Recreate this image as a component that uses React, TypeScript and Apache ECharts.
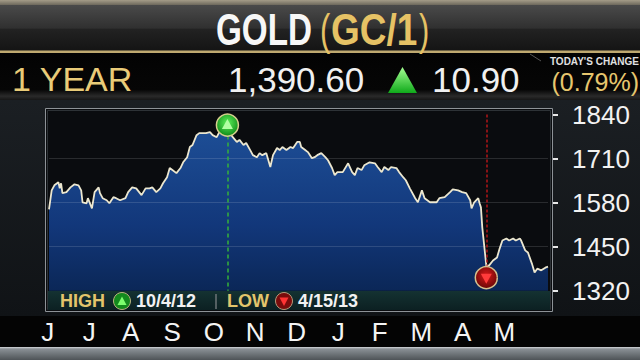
import React, { useEffect, useRef } from 'react';
import * as echarts from 'echarts';

// ---- data ----
const startDate = '2012-05-24';
const dayOffsets = [0,2,4,7,8,9,10,13,16,19,22,24,25,28,29,32,34,37,38,40,43,45,48,50,53,57,59,62,65,69,72,75,77,80,83,85,88,90,92,95,98,100,103,105,107,110,112,117,120,122,125,127,131,133,137,140,142,145,147,150,152,155,157,159,162,165,167,170,172,174,177,180,182,185,187,188,191,193,196,198,200,203,206,208,211,213,215,219,223,226,228,230,233,235,239,243,245,248,250,253,255,259,261,264,266,269,273,275,278,280,284,289,291,295,299,301,305,308,311,314,315,317,320,321,322,323,326,328,331,334,336,338,341,343,346,348,351,352,355,357,360,362,364,367,370,372];
const prices = [1560,1616,1631,1640,1622,1637,1608,1611,1625,1634,1631,1616,1581,1578,1593,1563,1611,1625,1608,1593,1587,1578,1596,1593,1587,1593,1611,1625,1622,1602,1622,1622,1625,1611,1622,1637,1655,1682,1676,1667,1682,1699,1714,1744,1750,1779,1785,1785,1788,1779,1773,1788,1794,1797,1773,1759,1765,1750,1756,1735,1720,1714,1726,1720,1726,1685,1720,1741,1735,1744,1735,1744,1741,1759,1759,1744,1735,1729,1711,1714,1720,1726,1714,1705,1682,1661,1670,1670,1696,1670,1661,1682,1676,1690,1699,1696,1685,1670,1685,1676,1685,1682,1670,1655,1646,1622,1593,1581,1616,1593,1581,1581,1593,1596,1611,1619,1616,1611,1608,1587,1563,1581,1593,1578,1566,1507,1394,1394,1409,1418,1445,1468,1474,1468,1474,1468,1474,1468,1439,1433,1400,1374,1385,1380,1388,1391];
const yTicks = [1320, 1450, 1580, 1710, 1840];
const months = ['J', 'J', 'A', 'S', 'O', 'N', 'D', 'J', 'F', 'M', 'A', 'M'];
const highDateISO = '2012-10-04';
const lowDateISO = '2013-04-15';
const highLabel = '10/4/12';
const lowLabel = '4/15/13';
const lastPrice = '1,390.60';
const change = '10.90';
const changePct = '(0.79%)';
const periodLabel = '1 YEAR';

const FONT = '"Liberation Sans", Arial, sans-serif';

const lg = (stops: [number, string][]) => ({
  type: 'linear', x: 0, y: 0, x2: 0, y2: 1,
  colorStops: stops.map(([offset, color]) => ({ offset, color })),
});
const rect = (x: number, y: number, w: number, h: number, fill: any, extra: any = {}) => ({
  type: 'rect', silent: true, z: 0, shape: { x, y, width: w, height: h }, style: { fill, ...(extra.style || {}) }, ...(extra.el || {}),
});
const txt = (text: string, x: number, y: number, font: string, fill: string, scaleX = 1, align = 'left') => ({
  type: 'text', silent: true, z: 1, x, y, scaleX,
  style: { text, font, fill, textAlign: align, textVerticalAlign: 'middle', align, verticalAlign: 'middle' },
});

export default function App() {
  const ref = useRef<HTMLDivElement>(null);
  useEffect(() => {
    const chart = echarts.init(ref.current!, null, { renderer: 'svg' });
    const DAY = 86400000;
    const t0 = new Date(startDate).getTime();
    const seriesData = dayOffsets.map((d, i) => [t0 + d * DAY, prices[i]]);
    const highTs = new Date(highDateISO).getTime();
    const lowTs = new Date(lowDateISO).getTime();
    const highVal = (seriesData.find(p => p[0] === highTs) || seriesData[0])[1];
    const lowVal = (seriesData.find(p => p[0] === lowTs) || seriesData[0])[1];
    const yMin = yTicks[0];
    const yMax = yTicks[yTicks.length - 1];
    const gridStyle = { color: 'rgba(255,255,255,0.13)', width: 1, type: 'solid' };
    const greenDash = { color: '#35b33a', width: 1.5, type: [4, 3] };
    const redDash = { color: '#b3161a', width: 1.5, type: [3, 2] };

    const graphic: any[] = [
      rect(0, 0, 640, 360, '#111417'),
      rect(0, 0, 640, 5, lg([[0, '#a49c88'], [1, '#6d685c']])),
      rect(0, 5, 640, 46, lg([[0, '#4a4a4a'], [0.5, '#303030'], [0.53, '#222222'], [1, '#141414']])),
      rect(0, 50.5, 640, 2.5, '#bfa970'),
      rect(0, 53, 640, 47, lg([[0, '#030303'], [0.78, '#060606'], [0.92, '#2a2a2a'], [1, '#161616']])),
      rect(0, 100, 640, 216, lg([[0, '#1b1f23'], [1, '#101316']])),
      rect(0, 316, 640, 31, '#040404'),
      rect(0, 347, 640, 13, lg([[0, '#d5d9dc'], [0.15, '#8a9095'], [1, '#4e5357']])),
      rect(45.5, 108.5, 507, 203, '#0a0c0f', { style: { stroke: '#8d9297', lineWidth: 1 } }),
      rect(47.5, 110.5, 503, 199, 'none', { style: { stroke: '#2d3236', lineWidth: 1 } }),
      rect(48, 291, 502, 19, lg([[0, '#143232'], [1, '#0c2022']])),
      // header texts
      txt('GOLD', 216, 30, `bold 44px ${FONT}`, '#f7f7f7', 0.755),
      txt('(', 320, 30, `normal 44px ${FONT}`, '#e6c265', 0.7),
      txt('GC/1', 331, 30, `bold 44px ${FONT}`, '#e6c265', 0.84),
      txt(')', 419, 30, `normal 44px ${FONT}`, '#e6c265', 0.7),
      txt(periodLabel, 12, 79, `normal 34px ${FONT}`, '#e9cb78'),
      txt(lastPrice, 228, 79, `normal 35px ${FONT}`, '#f0f0f0'),
      { type: 'polygon', silent: true, z: 1, shape: { points: [[388, 93], [402.5, 67], [417, 93]] }, style: { fill: lg([[0, '#a6ff94'], [1, '#0faa1a']]) } },
      txt(change, 432, 79, `normal 35px ${FONT}`, '#f0f0f0'),
      { type: 'polyline', silent: true, z: 1, shape: { points: [[530, 54], [541, 61]] }, style: { stroke: '#555', lineWidth: 1 } },
      txt("TODAY'S CHANGE", 639, 61.5, `bold 10px ${FONT}`, '#e0e0e0', 1, 'right'),
      txt(changePct, 639, 82, `normal 25px ${FONT}`, '#e6c66e', 1, 'right'),
      // high / low legend band
      txt('HIGH', 60, 301, `bold 18px ${FONT}`, '#e3c56c'),
      { type: 'circle', silent: true, z: 1, shape: { cx: 122, cy: 301, r: 8.5 }, style: { fill: '#138a1d', stroke: '#b9b27e', lineWidth: 1 } },
      { type: 'polygon', silent: true, z: 2, shape: { points: [[117.5, 305], [122, 296.5], [126.5, 305]] }, style: { fill: '#7dff6e' } },
      txt(highLabel, 136, 301, `bold 18px ${FONT}`, '#f2f2f2'),
      { type: 'line', silent: true, z: 1, shape: { x1: 216, y1: 294, x2: 216, y2: 309 }, style: { stroke: '#6d7577', lineWidth: 1.5 } },
      txt('LOW', 227, 301, `bold 18px ${FONT}`, '#e3c56c'),
      { type: 'circle', silent: true, z: 1, shape: { cx: 284, cy: 301, r: 8.5 }, style: { fill: '#7a0c0c', stroke: '#b49a7a', lineWidth: 1 } },
      { type: 'polygon', silent: true, z: 2, shape: { points: [[279.5, 297.5], [288.5, 297.5], [284, 306]] }, style: { fill: '#ff3434' } },
      txt(lowLabel, 298, 301, `bold 18px ${FONT}`, '#f2f2f2'),
    ];

    chart.setOption({
      animation: false,
      graphic,
      grid: [
        { left: 49, right: 92, top: 114.5, bottom: 69.3 },
        { left: 27, width: 498, top: 300, height: 16 },
      ],
      xAxis: [
        { type: 'time', gridIndex: 0, min: t0, max: t0 + 372 * DAY, show: false },
        {
          type: 'category', gridIndex: 1, data: months, boundaryGap: true, z: 10,
          axisLine: { show: false }, axisTick: { show: false }, splitLine: { show: false },
          axisLabel: { color: '#f4f4f4', fontSize: 26, fontFamily: FONT, margin: 16, verticalAlign: 'middle', interval: 0 },
        },
      ],
      yAxis: [
        {
          type: 'value', gridIndex: 0, position: 'right', min: yMin, max: yMax, interval: 130, offset: 5, z: 10,
          axisLine: { show: false },
          axisTick: { show: true, length: 5, lineStyle: { color: '#e8e8e8', width: 2 } },
          axisLabel: { color: '#f2f2f2', fontSize: 26, fontFamily: FONT, margin: 19, padding: [6, 0, 0, 0], formatter: (v: number) => String(v) },
          splitLine: { show: false },
        },
        { type: 'value', gridIndex: 1, show: false },
      ],
      series: [
        {
          type: 'line', xAxisIndex: 0, yAxisIndex: 0, data: seriesData, showSymbol: false, symbol: 'none', z: 3,
          lineStyle: { color: '#ece7cf', width: 1.8 },
          areaStyle: { origin: 'start', opacity: 1, color: lg([[0, '#1d4e96'], [0.6, '#12377a'], [1, '#0b2757']]) },
          markLine: {
            silent: true, symbol: ['none', 'none'], label: { show: false }, emphasis: { disabled: true }, animation: false,
            data: [
              { yAxis: yTicks[1], lineStyle: gridStyle },
              { yAxis: yTicks[2], lineStyle: gridStyle },
              { yAxis: yTicks[3], lineStyle: gridStyle },
              [{ coord: [highTs, yMax], lineStyle: greenDash }, { coord: [highTs, yMin], lineStyle: greenDash }],
              [{ coord: [lowTs, yMax], lineStyle: redDash }, { coord: [lowTs, lowVal], lineStyle: redDash }],
            ],
          },
        },
        {
          type: 'scatter', xAxisIndex: 0, yAxisIndex: 0, z: 10, silent: true,
          data: [[highTs, highVal]], symbol: 'circle', symbolSize: 22, symbolOffset: [0, -4],
          itemStyle: {
            color: { type: 'radial', x: 0.5, y: 0.4, r: 0.6, colorStops: [{ offset: 0, color: '#5df05a' }, { offset: 1, color: '#0f8a18' }] },
            borderColor: '#d6cf8e', borderWidth: 1.5, opacity: 1,
          },
        },
        {
          type: 'scatter', xAxisIndex: 0, yAxisIndex: 0, z: 11, silent: true,
          data: [[highTs, highVal]], symbol: 'triangle', symbolSize: [11, 10], symbolOffset: [0, -5],
          itemStyle: { color: '#b2ffa2', opacity: 1 },
        },
        {
          type: 'scatter', xAxisIndex: 0, yAxisIndex: 0, z: 10, silent: true,
          data: [[lowTs, lowVal]], symbol: 'circle', symbolSize: 22, symbolOffset: [0, 12],
          itemStyle: {
            color: { type: 'radial', x: 0.5, y: 0.4, r: 0.6, colorStops: [{ offset: 0, color: '#d41a1a' }, { offset: 1, color: '#6a0606' }] },
            borderColor: '#d6c08e', borderWidth: 1.5, opacity: 1,
          },
        },
        {
          type: 'scatter', xAxisIndex: 0, yAxisIndex: 0, z: 11, silent: true,
          data: [[lowTs, lowVal]], symbol: 'triangle', symbolRotate: 180, symbolSize: [11, 10], symbolOffset: [0, 13],
          itemStyle: { color: '#ff3b3b', opacity: 1 },
        },
      ],
    });
    return () => chart.dispose();
  }, []);
  return <div ref={ref} style={{ position: 'absolute', left: 0, top: 0, width: 640, height: 360 }} />;
}
